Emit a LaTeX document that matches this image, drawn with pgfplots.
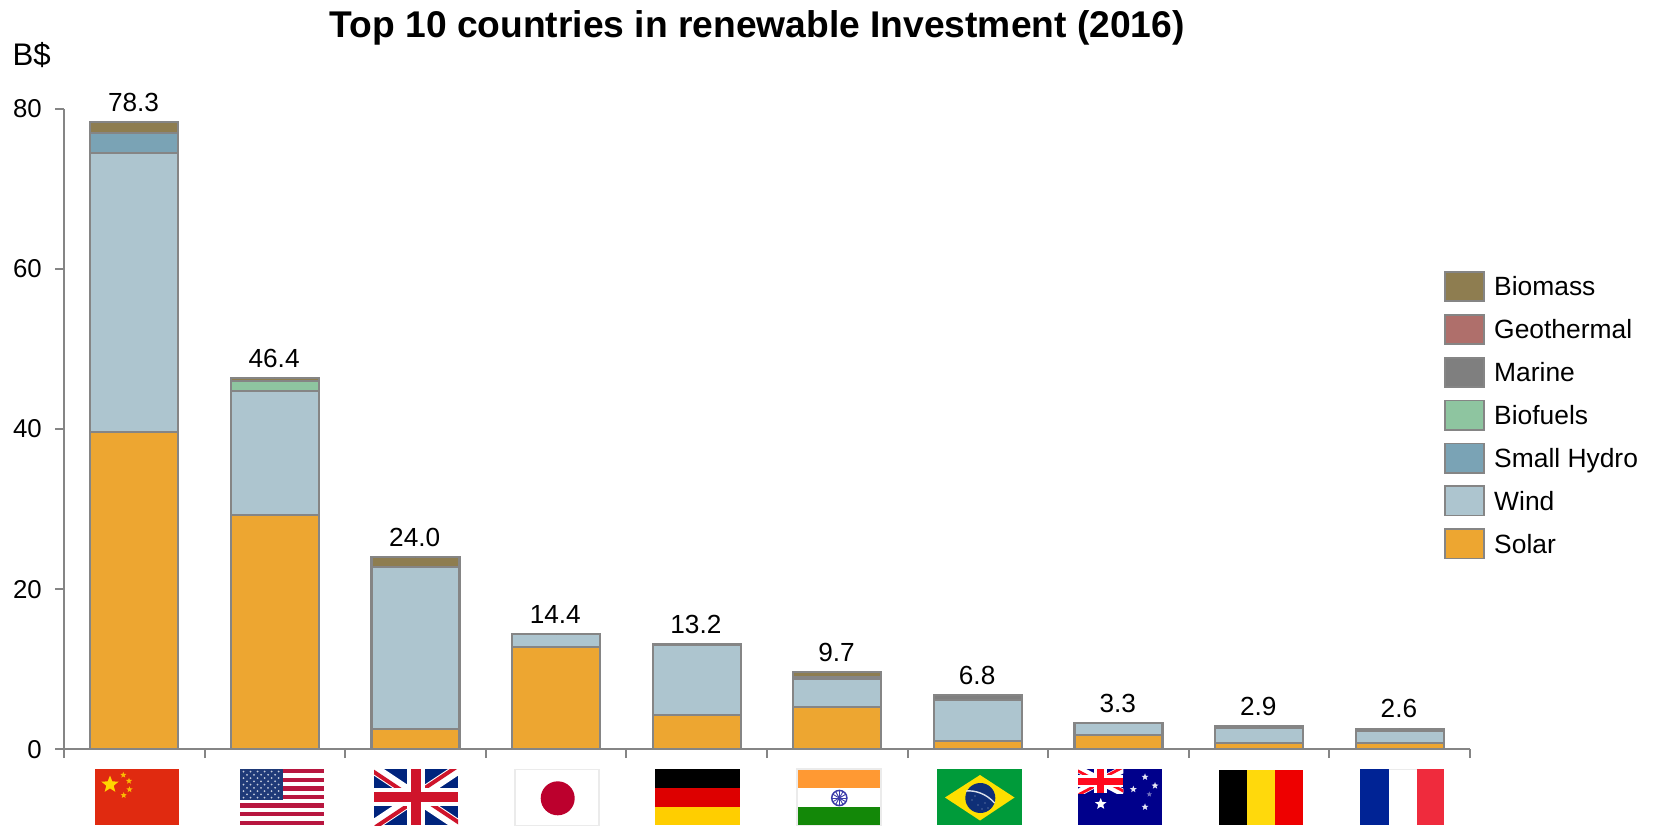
\documentclass[border=0pt]{standalone}
\usepackage{pgfplots}
\pgfplotsset{compat=1.18}
\usepackage{pgfplotstable}
\usepackage{fontspec}
\setmainfont{Liberation Sans}
\usetikzlibrary{shapes.geometric}

\definecolor{edge}{HTML}{858585}
\definecolor{csolar}{HTML}{EDA631}
\definecolor{cwind}{HTML}{ADC5CF}
\definecolor{chydro}{HTML}{7AA3B5}
\definecolor{cbiofuels}{HTML}{8EC5A0}
\definecolor{cmarine}{HTML}{7F7F7F}
\definecolor{cgeo}{HTML}{AF6F6B}
\definecolor{cbiomass}{HTML}{8E7D50}

\definecolor{cnred}{HTML}{E02A10}
\definecolor{cnstar}{HTML}{FFD500}
\definecolor{usred}{HTML}{B8163F}
\definecolor{usblue}{HTML}{1F3A78}
\definecolor{ukred}{HTML}{CF142B}
\definecolor{ukblue}{HTML}{00247D}
\definecolor{jpred}{HTML}{BC002D}
\definecolor{flagedge}{HTML}{EBEBEB}
\definecolor{degold}{HTML}{FFCE00}
\definecolor{dered}{HTML}{DD0000}
\definecolor{insaffron}{HTML}{FF9933}
\definecolor{ingreen}{HTML}{138808}
\definecolor{innavy}{HTML}{3A3AA8}
\definecolor{brgreen}{HTML}{009B3A}
\definecolor{bryellow}{HTML}{FEDF00}
\definecolor{brblue}{HTML}{0F2F77}
\definecolor{aublue}{HTML}{00008B}
\definecolor{aured}{HTML}{FF0A1E}
\definecolor{begold}{HTML}{FFD90C}
\definecolor{bered}{HTML}{EE0000}
\definecolor{frblue}{HTML}{002395}
\definecolor{frred}{HTML}{EF2B3D}

% Investment by technology, billion dollars
\pgfplotstableread{
pos solar wind hydro biofuels marine geo biomass total
0   39.6  34.9 2.5   0        0      0   1.3     78.3
1   29.3  15.5 0     1.2      0      0   0.4     46.4
2   2.6   20.2 0     0        0      0   1.2     24.0
3   12.8  1.6  0     0        0      0   0       14.4
4   4.3   8.7  0     0        0.2    0   0       13.2
5   5.3   3.5  0     0        0.2    0   0.7     9.7
6   1.0   5.2  0     0        0.6    0   0       6.8
7   1.8   1.5  0     0        0      0   0       3.3
8   0.8   1.9  0     0        0.2    0   0       2.9
9   0.8   1.5  0     0        0.3    0   0       2.6
}\invest

\tikzset{
  swatch/.style={fill=#1, draw=edge},
  smallstar/.style={star, star points=5, star point ratio=2.3, inner sep=0pt, draw=none},
}
\pgfplotsset{
  boxlegend/.style={legend image code/.code={\draw[##1,line width=0.9pt] (0pt,-7.3pt) rectangle (19.2pt,7.3pt);}},
  framing/.style={
    at={(32pt,37.8pt)}, anchor=south west,
    scale only axis, width=703pt, height=320.3pt,
    xmin=-0.5, xmax=9.5, ymin=0, ymax=80,
  },
}

% Union flag in a w x h box: x, y, w, h, bar scale, red, blue
\newcommand{\unionjack}[7]{%
  \begin{scope}
  \clip (#1,#2) rectangle ++(#3,#4);
  \fill[#7] (#1,#2) rectangle ++(#3,#4);
  \begin{scope}[shift={(#1,#2)}]
    \pgfmathsetmacro{\wd}{#3}\pgfmathsetmacro{\ht}{#4}
    \pgfmathsetmacro{\hw}{\wd/2}\pgfmathsetmacro{\hh}{\ht/2}
    \pgfmathsetmacro{\nx}{2.5*#5*0.555}\pgfmathsetmacro{\ny}{2.5*#5*0.832}
    \draw[white,line width=#5*5.5pt] (0,0) -- (\wd,\ht) (\wd,0) -- (0,\ht);
    \draw[#6,line width=#5*2pt] (-\nx,\ny) -- ++(\hw,\hh);
    \draw[#6,line width=#5*2pt] (\wd,0) ++(-\nx,-\ny) -- ++(-\hw,\hh);
    \draw[#6,line width=#5*2pt] (\wd,\ht) ++(\nx,-\ny) -- ++(-\hw,-\hh);
    \draw[#6,line width=#5*2pt] (0,\ht) ++(\nx,\ny) -- ++(\hw,-\hh);
    \draw[white,line width=#5*9pt] (\hw,0) -- (\hw,\ht) (0,\hh) -- (\wd,\hh);
    \draw[#6,line width=#5*5pt] (\hw,0) -- (\hw,\ht) (0,\hh) -- (\wd,\hh);
  \end{scope}
  \end{scope}}

\begin{document}
\begin{tikzpicture}
\path[use as bounding box, fill=white] (0,0) rectangle (829pt,412.5pt);

\begin{axis}[
  framing,
  ybar stacked, bar width=44pt,
  axis x line*=bottom, axis y line*=left,
  axis line style={edge, line width=1pt, -},
  tick style={edge, line width=1pt},
  tick align=outside, major tick length=4.4pt,
  xtick={-0.5,0.5,...,9.5}, xticklabels={},
  ytick={0,20,40,60,80},
  /pgf/number format/assume math mode=true,
  tick label style={font=\fontsize{12.9pt}{14pt}\selectfont, black},
  yticklabel style={inner sep=0pt, xshift=-6.5pt},
  title={\textbf{Top 10 countries in renewable Investment (2016)}},
  title style={font=\fontsize{18.6pt}{20pt}\selectfont, at={(axis description cs:0.493,1.108)}, anchor=center, inner sep=0pt},
  ylabel={B\$},
  ylabel style={font=\fontsize{15.6pt}{17pt}\selectfont, rotate=-90, at={(axis description cs:-0.0368,1.084)}, anchor=west, inner sep=0pt},
  every axis plot/.append style={draw=edge, line width=1.05pt},
  reverse legend,
  legend cell align=left,
  legend style={at={(axis description cs:0.9815,0.7475)}, anchor=north west, draw=none, fill=none,
    inner sep=0pt, row sep=5.95pt, font=\fontsize{13.2pt}{15pt}\selectfont,
    nodes={inner ysep=0pt, inner xsep=4.8pt, yshift=-0.7pt}},
]
\addplot[swatch=csolar, boxlegend] table[x=pos,y=solar] {\invest};
\addlegendentry{Solar}
\addplot[swatch=cwind, boxlegend] table[x=pos,y=wind] {\invest};
\addlegendentry{Wind}
\addplot[swatch=chydro, boxlegend] table[x=pos,y=hydro] {\invest};
\addlegendentry{Small Hydro}
\addplot[swatch=cbiofuels, boxlegend] table[x=pos,y=biofuels] {\invest};
\addlegendentry{Biofuels}
\addplot[swatch=cmarine, boxlegend] table[x=pos,y=marine] {\invest};
\addlegendentry{Marine}
\addplot[swatch=cgeo, boxlegend] table[x=pos,y=geo] {\invest};
\addlegendentry{Geothermal}
\addplot[swatch=cbiomass, boxlegend] table[x=pos,y=biomass] {\invest};
\addlegendentry{Biomass}
\end{axis}

% Totals above the stacks, on an overlaid axis with the same frame
\begin{axis}[framing, hide axis]
\addplot[only marks, mark=*, mark size=0pt, point meta=y,
  nodes near coords={\pgfmathprintnumber[fixed,fixed zerofill,precision=1,assume math mode=true]{\pgfplotspointmeta}},
  every node near coord/.append style={font=\fontsize{13.1pt}{14pt}\selectfont, black, inner sep=0pt, xshift=-0.4pt, yshift=5pt, anchor=south}]
  table[x=pos,y=total] {\invest};
\end{axis}

% Flags along the category axis, in a top-left based coordinate system
\begin{scope}[x=0.5pt,y=-0.5pt,yshift=412.5pt]
  \clip (0,0) rectangle (1658,825);

  % China
  \fill[cnred] (95,769) rectangle (179,825);
  \node[smallstar, fill=cnstar, minimum size=9pt] at (110,784.5) {};
  \foreach \sx/\sy in {123.3/775,129/781,129.5/789.5,123.7/795.3}
    \node[smallstar, fill=cnstar!85!cnred, minimum size=3.2pt] at (\sx,\sy) {};

  % United States
  \fill[white] (240,769) rectangle (324,825);
  \foreach \k in {0,2,...,12}
    \fill[usred] (240,769+\k*4.31) rectangle (324,769+\k*4.31+4.31);
  \fill[usblue] (240,769) rectangle (282.7,799.7);
  \foreach \r in {0,...,8}{
    \pgfmathsetmacro{\off}{mod(\r,2)==0 ? 3.5 : 7}
    \foreach \c in {0,...,5}{
      \pgfmathsetmacro{\px}{240+\off+\c*7}
      \pgfmathsetmacro{\py}{771.5+\r*3.25}
      \ifdim\px pt<282pt
        \fill[white,opacity=0.75] (\px,\py) circle (1);
      \fi
    }
  }

  % United Kingdom
  \unionjack{374}{769}{84}{56}{1}{ukred}{ukblue}

  % Japan
  \draw[flagedge, fill=white, line width=0.75pt] (515,769.5) rectangle (599,826);
  \fill[jpred] (557.7,798.3) circle (17);

  % Germany
  \fill[black] (655,769) rectangle (740,788);
  \fill[dered] (655,788) rectangle (740,807);
  \fill[degold] (655,807) rectangle (740,825);

  % India
  \fill[insaffron] (797,769) rectangle (881,787.7);
  \fill[white] (797,787.7) rectangle (881,807.3);
  \fill[ingreen] (797,807.3) rectangle (881,825);
  \draw[flagedge, line width=0.6pt] (797,769) rectangle (881,826);
  \draw[innavy, line width=0.75pt] (839.3,798) circle (7.6);
  \foreach \a in {0,30,...,330}
    \draw[innavy, line width=0.45pt] (839.3,798) -- ++(\a:7.6);

  % Brazil
  \fill[brgreen] (937,769) rectangle (1022,825);
  \fill[bryellow] (945,797.5) -- (980,775) -- (1014.5,797.5) -- (980,820.5) -- cycle;
  \fill[brblue] (980.3,798) circle (15);
  \draw[white!85!brblue, line width=0.7pt] (966,791) .. controls (975,790) and (987,794) .. (994.5,803);
  \foreach \sx/\sy in {972/800,978/805,985/803,982/809,988/808,975/796}
    \fill[white,opacity=0.6] (\sx,\sy) circle (0.7);

  % Australia
  \fill[aublue] (1078,769) rectangle (1162,825);
  \unionjack{1078}{769}{45.3}{24}{0.7}{aured}{aublue}
  \node[smallstar, fill=white, minimum size=6pt] at (1100.7,804) {};
  \foreach \sx/\sy in {1145/777,1133.3/789.3,1155/785.7,1145/807}
    \node[smallstar, fill=white!90!aublue, minimum size=3.6pt] at (\sx,\sy) {};
  \node[smallstar, fill=white!45!aublue, minimum size=2.8pt] at (1149.3,794.3) {};

  % Belgium
  \fill[black] (1219,770) rectangle (1247,825);
  \fill[begold] (1247,770) rectangle (1275,825);
  \fill[bered] (1275,770) rectangle (1303,825);

  % France
  \fill[frblue] (1360,769) rectangle (1388.6,825);
  \fill[white] (1388.6,769) rectangle (1416.6,825);
  \fill[frred] (1416.6,769) rectangle (1444,825);
  \draw[flagedge, line width=0.5pt] (1388.6,769) -- (1416.6,769);
\end{scope}
\end{tikzpicture}
\end{document}
